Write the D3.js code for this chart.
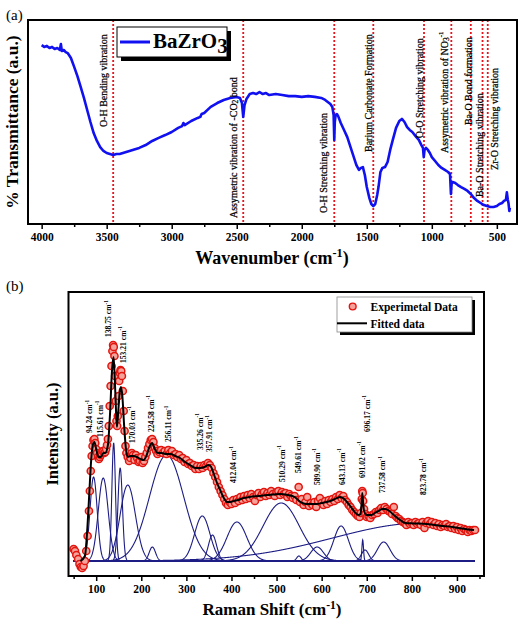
<!DOCTYPE html>
<html><head><meta charset="utf-8">
<script src="https://cdn.jsdelivr.net/npm/d3@7"></script>
<style>
body{margin:0;background:#fff}
svg{display:block}
text{font-family:"Liberation Serif","Times New Roman",serif}
</style>
</head><body>
<svg id="chart" width="520" height="637"></svg>
<script>
// ---------------- Panel (a): FTIR ----------------
const ftirWavenumber = [4000,3980,3960,3940,3920,3900,3880,3860,3852,3845,3830,3815,3800,3775,3750,3725,3700,3675,3650,3625,3600,3575,3550,3525,3500,3475,3450,3425,3400,3350,3300,3250,3200,3150,3100,3050,3000,2950,2920,2910,2900,2850,2800,2780,2770,2750,2700,2650,2600,2550,2500,2475,2460,2450,2440,2425,2400,2375,2350,2325,2300,2275,2250,2200,2150,2100,2050,2000,1950,1900,1850,1820,1800,1780,1765,1755,1750,1746,1740,1730,1720,1700,1675,1650,1625,1600,1580,1560,1545,1530,1515,1500,1480,1465,1450,1435,1420,1410,1395,1380,1360,1340,1320,1300,1275,1250,1230,1210,1190,1170,1150,1125,1100,1080,1068,1062,1056,1045,1030,1015,1000,975,950,925,900,875,860,853,848,840,820,800,775,750,725,700,675,650,625,600,575,550,525,500,480,460,445,430,423,416,410,404,400];
const ftirTransmittance = [87.7,86.8,87.3,86.3,86.8,85.8,86.3,85.3,88.2,84.8,85.3,84.3,83.8,81.4,77.0,72.5,67.2,61.8,55.9,50.0,44.6,40.7,37.7,35.8,34.8,34.3,33.8,34.3,34.3,35.3,36.3,37.3,38.7,40.7,42.2,43.6,45.1,47.1,48.0,49.5,48.5,50.5,52.0,52.5,53.9,54.4,57.4,59.3,60.8,61.8,62.3,61.8,59.3,52.5,58.3,61.3,63.7,64.2,63.7,64.7,63.7,64.2,63.2,63.7,63.2,62.7,62.7,62.3,62.7,62.3,61.8,60.8,59.8,58.8,57.4,53.4,41.2,50.0,53.4,53.9,52.9,49.5,46.1,42.6,37.7,32.8,28.9,26.5,27.5,27.9,24.0,18.1,12.7,9.8,8.8,9.8,14.2,18.1,25.5,27.5,27.9,30.4,36.3,41.2,47.1,50.5,51.5,50.0,47.5,46.1,45.1,43.1,41.2,38.7,37.3,32.8,36.3,37.3,36.3,34.8,32.8,30.9,28.9,27.5,26.5,25.5,24.5,14.7,19.6,20.6,20.1,19.1,18.1,17.2,16.2,14.7,12.7,11.3,10.3,9.3,8.8,8.3,8.3,8.8,9.8,10.3,11.3,11.8,15.5,12.0,10.0,6.4,8.0];
const ftirTicks = [4000,3500,3000,2500,2000,1500,1000,500];
const ftirMinorTicks = [3750,3250,2750,2250,1750,1250,750];
const bandPositions = [3450,2450,1750,1450,1060,850,700,610,570];
const bandLabels = ["O-H Bending vibration","Assymetric vibration of -CO_{2} bond","O-H Stretching vibration","Barium Carbonate Formation","O-O Stretching vibration","Assymetric vibration of NO_{3}^{-1}","Ba-O Bond formation","Ba-O Stretching vibration","Zr-O Stretching vibration"];
const bandLabelWavenumber = [3530,2528,1840,1492,1098,905,722,638,522];
const bandLabelStart = [47.5,2.9,5.4,35.3,42.0,34.8,48.5,13.2,26.5];
const ftirSeriesName = "BaZrO_{3}";

// ---------------- Panel (b): Raman ----------------
const ramanShift = [50,53,56,60,63,66,69,72,75,78,81,84,86,88,90,92,94,96,98,100,102,104,106,108,110,112,114,116,118,120,122,124,126,128,130,132,134,136,137.5,139,140.5,142,143.5,145,146.5,148,149.5,151,152.5,154,155.5,157,159,161,163,165,167,170,173,176,179,182,185,188,191,194,197,200,203,206,209,212,215,218,221,224,227,230,233,236,240,244,248,252,256,260,264,268,272,276,280,284,288,292,296,300,304,308,312,316,320,324,328,332,336,340,344,348,352,356,360,364,368,372,376,380,384,388,392,396,400,404,408,412,416,420,424,428,432,436,440,444,448,452,456,460,464,468,472,476,480,484,488,492,496,500,504,508,512,516,520,524,528,532,536,540,544,549,552,556,560,564,568,572,576,580,584,588,592,596,600,604,608,612,616,620,624,628,632,636,640,644,648,652,656,660,664,668,672,676,680,684,687,689,690,691,692,694,697,700,704,708,712,716,720,724,728,732,736,740,744,748,752,756,760,764,768,772,776,780,784,788,792,796,800,804,808,812,816,820,824,828,832,836,840,844,848,852,856,860,864,868,872,876,880,884,888,892,896,900,904,908,912,916,920,924,928,932,936,940];
const ramanExperimental = [12,10,6,2,-3,-6,-7,-5,0,10,25,50,70,90,105,115,121,122,118,112,108,104,102,104,106,108,110,110,108,109,112,116,122,135,155,175,195,210,216,214,205,185,160,140,135,145,165,180,188,191,190,185,170,150,130,115,108,104,100,103,108,106,101,106,103,99,100,104,98,100,104,108,113,117,121,122,119,113,110,107,109,111,108,110,107,111,108,110,106,107,104,106,102,103,99,101,97,98,95,96,92,95,92,95,93,96,95,98,96,93,88,84,79,74,70,66,62,58,56,59,57,61,58,62,60,64,61,65,62,66,63,67,64,60,66,68,64,67,69,65,68,66,70,67,65,69,70,66,69,67,68,64,67,65,63,65,61,74,59,62,56,59,64,55,58,56,59,54,60,63,58,56,60,57,61,59,62,60,64,62,66,63,65,61,59,56,54,51,49,47,45,44,48,62,70,68,60,52,47,44,45,43,46,47,49,48,51,53,51,54,52,50,49,47,54,45,43,42,40,39,38,36,39,37,38,36,39,37,38,36,39,33,38,40,37,39,36,38,35,37,34,36,35,37,34,35,33,35,32,34,31,33,30,32,31,29,31,30,31,31];
const fitShift = [65,75,80,85,88,92,96,100,105,110,116,120,126,131,135,138.5,141,144,146,149,152,155,158,162,166,170,176,183,190,198,205,212,218,224,230,236,245,255,265,275,286,297,308,320,331,340,349,355,360,368,375,383,390,398,405,415,427,440,460,480,508,525,540,550,557,567,580,589,600,611,625,641,650,656,665,675,682,686,688,690,692,694,700,711,718,726,735,741,750,760,774,786,796,810,833,850,870,890,907,925,938];
const fitIntensity = [0,5,30,70,95,115,119,112,104,104,108,108,116,150,190,204,185,150,134,150,168,174,165,135,112,104,105,105,104,102,101,106,114,118,112,108,108,107,107,105,103,99,96,93,93,94,96,94,88,78,71,63,59,59,60,61,63,64,65,66,67,66,64,60,58,57,57,57,58,59,61,64,62,59,54,48,46,47,54,68,58,50,46,46,48,50,52,52,50,46,41,38,37.7,37.5,37,36,35,34,32.7,31.5,31];
const peakCenters = [94.24,115.61,138.75,153.21,170.03,224.58,256.11,335.26,357.91,412.04,510.29,549.61,589.90,643.13,691.02,696.17,737.58,823.78];
const peakHeights = [84,83,118,93,76,14,106,45,26,39,58,5,14,35,21,11,19,38];
const peakSigmas = [8,11,4,5,17,7,38,17,9,22,40,5,14,16,1.8,8,14,199];
const peakLabels = ["94.24 cm^{-1}","115.61 cm^{-1}","138.75 cm^{-1}","153.21 cm^{-1}","170.03 cm^{-1}","224.58 cm^{-1}","256.11 cm^{-1}","335.26 cm^{-1}","357.91 cm^{-1}","412.04 cm^{-1}","510.29 cm^{-1}","549.61 cm^{-1}","589.90 cm^{-1}","643.13 cm^{-1}","691.02 cm^{-1}","696.17 cm^{-1}","737.58 cm^{-1}","823.78 cm^{-1}"];
const peakLabelShift = [85.1,108.9,127.3,159.2,179.2,222,260.3,330.6,351.2,404.4,511.8,548.6,589.4,644.8,689.1,700.2,734.8,825.7];
const peakLabelStart = [128,124,224,198,118,129,119,111,109,78,79,88,76,76,83,129,68,66];
const ramanTicks = [100,200,300,400,500,600,700,800,900];
const ramanMinorTicks = [50,150,250,350,450,550,650,750,850,950];
const legendNames = ["Experimetal Data","Fitted data"];

// ---------------- helpers ----------------
const svg = d3.select("#chart");
function rich(sel, str, fs) {
  const parts = str.split(/(\^\{[^}]*\}|_\{[^}]*\})/).filter(s => s.length);
  let shift = 0;
  parts.forEach(p => {
    let t = p, target = 0, size = fs;
    if (p.startsWith("^{")) { t = p.slice(2, -1); target = -0.38 * fs; size = fs * 0.68; }
    else if (p.startsWith("_{")) { t = p.slice(2, -1); target = 0.22 * fs; size = fs * 0.75; }
    sel.append("tspan").attr("dy", (target - shift).toFixed(2)).attr("font-size", size).text(t);
    shift = target;
  });
}

// ===== Panel (a) =====
const ax = { l: 28, r: 517, t: 20, b: 224 };
const xA = d3.scaleLinear().domain([4105, 345]).range([ax.l, ax.r]);
const yA = d3.scaleLinear().domain([0, 100]).range([ax.b, ax.t]);
const gA = svg.append("g");

gA.selectAll("line.band").data(bandPositions).join("line")
  .attr("x1", d => xA(d)).attr("x2", d => xA(d))
  .attr("y1", ax.t).attr("y2", ax.b)
  .attr("stroke", "#e8141c").attr("stroke-width", 1.8).attr("stroke-dasharray", "2,2");

const ftirData = ftirWavenumber.map((w, i) => [w, ftirTransmittance[i]]);
gA.append("path").datum(ftirData)
  .attr("d", d3.line().x(d => xA(d[0])).y(d => yA(d[1])))
  .attr("fill", "none").attr("stroke", "#1010f0").attr("stroke-width", 2.6).attr("stroke-linejoin", "round");

bandLabels.forEach((lab, i) => {
  const x = xA(bandLabelWavenumber[i]), y = yA(bandLabelStart[i]);
  const t = gA.append("text").attr("transform", `translate(${x},${y}) rotate(-90)`)
    .attr("dominant-baseline", "central").attr("font-size", 10).attr("fill", "#000")
    .attr("stroke", "#000").attr("stroke-width", 0.25);
  rich(t, lab, 10);
});

gA.append("rect").attr("x", ax.l).attr("y", ax.t).attr("width", ax.r - ax.l).attr("height", ax.b - ax.t)
  .attr("fill", "none").attr("stroke", "#000").attr("stroke-width", 2);

const axisA = gA.append("g").attr("transform", `translate(0,${ax.b})`)
  .call(d3.axisBottom(xA).tickValues(ftirTicks).tickSize(5).tickPadding(4).tickFormat(d3.format("d")));
axisA.select(".domain").remove();
axisA.selectAll("line").attr("stroke-width", 1.5);
axisA.selectAll("text").attr("font-size", 11.5).attr("font-weight", "bold").attr("font-family", "Liberation Serif");
gA.append("g").attr("transform", `translate(0,${ax.b})`)
  .call(d3.axisBottom(xA).tickValues(ftirMinorTicks).tickSize(3).tickFormat(""))
  .call(g => g.select(".domain").remove())
  .selectAll("line").attr("stroke-width", 1.5);

const tA = gA.append("text").attr("x", 272).attr("y", 264).attr("text-anchor", "middle")
  .attr("font-weight", "bold").attr("font-size", 18);
rich(tA, "Wavenumber (cm^{-1})", 18);
gA.append("text").attr("transform", "translate(18,122) rotate(-90)").attr("text-anchor", "middle")
  .attr("font-weight", "bold").attr("font-size", 17.5).text("% Transmittance (a.u.)");
gA.append("text").attr("x", 6).attr("y", 20).attr("font-size", 15).text("(a)");

gA.append("rect").attr("x", 121).attr("y", 31).attr("width", 110).attr("height", 30).attr("fill", "#000");
gA.append("rect").attr("x", 117).attr("y", 27).attr("width", 110).attr("height", 30).attr("fill", "#fff").attr("stroke", "#000").attr("stroke-width", 1);
gA.append("line").attr("x1", 120).attr("x2", 150).attr("y1", 42).attr("y2", 42).attr("stroke", "#1010f0").attr("stroke-width", 3);
const lgA = gA.append("text").attr("x", 153).attr("y", 48).attr("font-weight", "bold").attr("font-size", 21);
rich(lgA, ftirSeriesName, 21);
lgA.selectAll("tspan").filter((d, i) => i === 1).attr("font-size", 21);

// ===== Panel (b) =====
const bx = { l: 68.5, r: 484, t: 292, b: 576 };
const xB = d3.scaleLinear().domain([38.6, 960]).range([bx.l, bx.r]);
const yB = d3.scaleLinear().domain([-15, 269]).range([bx.b, bx.t]);
const gB = svg.append("g");

const grid = d3.range(50, 940.01, 0.5);
peakCenters.forEach((c, i) => {
  const pts = grid.map(v => [v, peakHeights[i] * Math.exp(-((v - c) ** 2) / (2 * peakSigmas[i] ** 2))]);
  gB.append("path").datum(pts)
    .attr("d", d3.line().x(d => xB(d[0])).y(d => yB(d[1])))
    .attr("fill", "none").attr("stroke", "#1c1c84").attr("stroke-width", 1.1);
});

gB.selectAll("circle.exp").data(ramanShift.map((s, i) => [s, ramanExperimental[i]])).join("circle")
  .attr("cx", d => xB(d[0])).attr("cy", d => yB(d[1])).attr("r", 3.6)
  .attr("fill", "#f4a29a").attr("stroke", "#e3150f").attr("stroke-width", 1.5);

gB.append("path").datum(fitShift.map((s, i) => [s, fitIntensity[i]]))
  .attr("d", d3.line().curve(d3.curveMonotoneX).x(d => xB(d[0])).y(d => yB(d[1])))
  .attr("fill", "none").attr("stroke", "#000").attr("stroke-width", 2);

peakLabels.forEach((lab, i) => {
  const x = xB(peakLabelShift[i]), y = yB(peakLabelStart[i]);
  const t = gB.append("text").attr("transform", `translate(${x},${y}) rotate(-90)`)
    .attr("dominant-baseline", "central").attr("font-size", 7.6).attr("font-weight", "bold");
  rich(t, lab, 7.6);
});

gB.append("rect").attr("x", bx.l).attr("y", bx.t).attr("width", bx.r - bx.l).attr("height", bx.b - bx.t)
  .attr("fill", "none").attr("stroke", "#000").attr("stroke-width", 2);

const axisB = gB.append("g").attr("transform", `translate(0,${bx.b})`)
  .call(d3.axisBottom(xB).tickValues(ramanTicks).tickSize(5).tickPadding(4).tickFormat(d3.format("d")));
axisB.select(".domain").remove();
axisB.selectAll("line").attr("stroke-width", 1.5);
axisB.selectAll("text").attr("font-size", 11.5).attr("font-weight", "bold").attr("font-family", "Liberation Serif");
gB.append("g").attr("transform", `translate(0,${bx.b})`)
  .call(d3.axisBottom(xB).tickValues(ramanMinorTicks).tickSize(3).tickFormat(""))
  .call(g => g.select(".domain").remove())
  .selectAll("line").attr("stroke-width", 1.5);

const tB = gB.append("text").attr("x", 272).attr("y", 615).attr("text-anchor", "middle")
  .attr("font-weight", "bold").attr("font-size", 17);
rich(tB, "Raman Shift (cm^{-1})", 17);
gB.append("text").attr("transform", "translate(58,434) rotate(-90)").attr("text-anchor", "middle")
  .attr("font-weight", "bold").attr("font-size", 16.5).text("Intensity (a.u.)");
gB.append("text").attr("x", 6).attr("y", 291).attr("font-size", 15).text("(b)");

gB.append("rect").attr("x", 340).attr("y", 300).attr("width", 135).attr("height", 35).attr("fill", "#000");
gB.append("rect").attr("x", 337).attr("y", 297).attr("width", 135).attr("height", 35).attr("fill", "#fff").attr("stroke", "#888").attr("stroke-width", 0.8);
gB.append("circle").attr("cx", 352.7).attr("cy", 306.5).attr("r", 3.4).attr("fill", "#f4a29a").attr("stroke", "#e3150f").attr("stroke-width", 1.4);
gB.append("line").attr("x1", 337).attr("x2", 367).attr("y1", 323.3).attr("y2", 323.3).attr("stroke", "#000").attr("stroke-width", 2);
gB.append("text").attr("x", 370.5).attr("y", 310.5).attr("font-weight", "bold").attr("font-size", 11.5).text(legendNames[0]);
gB.append("text").attr("x", 370.5).attr("y", 327.5).attr("font-weight", "bold").attr("font-size", 11.5).text(legendNames[1]);
</script>
</body></html>
